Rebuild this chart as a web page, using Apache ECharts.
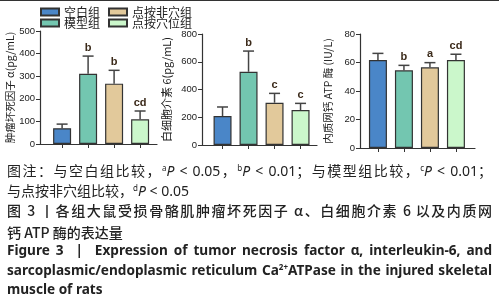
<!DOCTYPE html>
<html>
<head>
<meta charset="utf-8">
<script src="https://cdn.jsdelivr.net/npm/echarts@6/dist/echarts.min.js"></script>
<style>
  html, body { margin: 0; padding: 0; background: #fff; }
  #wrap { position: relative; width: 499px; height: 300px; overflow: hidden; border-top: 1px solid #333; box-sizing: border-box; }
  #chart { position: absolute; left: 0; top: 0; width: 499px; height: 160px; }
  .cap { position: absolute; left: 7px; width: 485px; white-space: nowrap; color: #222;
         font-family: "Noto Sans CJK SC", "Noto Sans", sans-serif; font-size: 14px; line-height: 20px; }
  .full { text-align: justify; text-align-last: justify; }
  .lat { font-family: "Noto Sans", "Open Sans", sans-serif; }
  .en { font-family: "Noto Sans", "Open Sans", sans-serif; font-weight: bold; font-size: 13.6px; }
  sup { font-size: 8px; line-height: 0; vertical-align: 5px; }
</style>
</head>
<body>
<div id="wrap">
  <div id="chart"></div>
  <div class="cap full" style="top:159px">图注：与空白组比较，<span class="lat"><sup>a</sup><i>P</i> &lt; 0.05</span>，<span class="lat"><sup>b</sup><i>P</i> &lt; 0.01</span>；与模型组比较，<span class="lat"><sup>c</sup><i>P</i> &lt; 0.01</span>；</div>
  <div class="cap" style="top:179px">与点按非穴组比较，<span class="lat"><sup>d</sup><i>P</i> &lt; 0.05</span></div>
  <div class="cap full" style="top:199px;font-weight:500">图 3 丨各组大鼠受损骨骼肌肿瘤坏死因子 α、白细胞介素 6 以及内质网</div>
  <div class="cap" style="top:221px;font-weight:500">钙 ATP 酶的表达量</div>
  <div class="cap full en" style="top:239px">Figure 3 &nbsp;|&nbsp; Expression of tumor necrosis factor α, interleukin-6, and</div>
  <div class="cap full en" style="top:259px">sarcoplasmic/endoplasmic reticulum Ca<sup>2+</sup>ATPase in the injured skeletal</div>
  <div class="cap en" style="top:278px">muscle of rats</div>
</div>
<script>
// groups (legend order follows the picture: left column then right column)
const groups = ['空白组', '模型组', '点按非穴组', '点按穴位组'];

// TNF-α (pg/mL)
const tnfMean = [70, 311, 267, 109];
const tnfSd = [18, 78, 59, 37];
const tnfSig = ['', 'b', 'b', 'cd'];

// IL-6 (pg/mL)
const il6Mean = [209, 528, 305, 252];
const il6Sd = [65, 149, 67, 48];
const il6Sig = ['', 'b', 'c', 'c'];

// SERCA (IU/L)
const atpMean = [61.8, 54.5, 56.6, 61.8];
const atpSd = [4.6, 3.5, 3.3, 4.0];
const atpSig = ['', 'b', 'a', 'cd'];

// y axis ranges
const yMax = [500, 800, 80];
const yStep = [100, 200, 20];
const yNames = ['肿瘤坏死因子 α(pg/mL)', '白细胞介素 6(pg/mL)', '内质网钙 ATP 酶 (IU/L)'];

const colors = ['#4a86c8', '#73c6b0', '#e2c99b', '#cbf7cb'];
const panels = [
  { mean: tnfMean, sd: tnfSd, sig: tnfSig },
  { mean: il6Mean, sd: il6Sd, sig: il6Sig },
  { mean: atpMean, sd: atpSd, sig: atpSig },
];

// layout
const grids = [
  { left: 40, top: 30, width: 117, height: 113 },
  { left: 202, top: 33, width: 115, height: 111 },
  { left: 360, top: 33, width: 115, height: 114 },
];
const unit = 26;                 // px between bar centres
const firstOffset = [0.85, 0.79, 0.69];
const nameGaps = [22, 30, 27];
const nameSizes = [10.5, 11, 10.5];

const chart = echarts.init(document.getElementById('chart'));

const xAxes = grids.map((g, k) => ({
  type: 'value',
  gridIndex: k,
  min: 0,
  max: g.width / unit,
  axisLine: { show: true, lineStyle: { color: '#333', width: 1.2 } },
  axisTick: {
    show: true,
    length: 4,
    customValues: groups.map((_, i) => i + firstOffset[k]),
    lineStyle: { color: '#333' },
  },
  axisLabel: { show: false },
  splitLine: { show: false },
}));

const yAxes = grids.map((g, k) => ({
  type: 'value',
  gridIndex: k,
  min: 0,
  max: yMax[k],
  interval: yStep[k],
  name: yNames[k],
  nameLocation: 'middle',
  nameRotate: 90,
  nameGap: nameGaps[k],
  nameTextStyle: { color: '#222', fontSize: nameSizes[k], fontFamily: 'Noto Sans CJK SC' },
  axisLine: { show: true, lineStyle: { color: '#333', width: 1.2 } },
  axisTick: { show: true, length: 4, lineStyle: { color: '#333' } },
  axisLabel: { color: '#222', fontSize: 9.5, margin: 5, fontFamily: 'Liberation Sans, Arial' },
  splitLine: { show: false },
}));

const series = [];
panels.forEach((p, k) => {
  groups.forEach((name, i) => {
    series.push({
      name: name,
      type: 'bar',
      xAxisIndex: k,
      yAxisIndex: k,
      barWidth: 18,
      barGap: '-100%',
      itemStyle: { color: colors[i], borderColor: '#333', borderWidth: 1.2 },
      data: [[i + firstOffset[k], p.mean[i]]],
      animation: false,
    });
  });
  series.push({
    type: 'custom',
    xAxisIndex: k,
    yAxisIndex: k,
    animation: false,
    silent: true,
    data: p.mean.map((m, i) => [i + firstOffset[k], m, p.sd[i], i]),
    renderItem: function (params, api) {
      const x = api.value(0);
      const m = api.value(1);
      const s = api.value(2);
      const idx = api.value(3);
      const bot = api.coord([x, m]);
      const top = api.coord([x, m + s]);
      const cap = 5.5;
      const children = [
        { type: 'line', shape: { x1: bot[0], y1: bot[1], x2: top[0], y2: top[1] },
          style: { stroke: '#444', lineWidth: 1.5 } },
        { type: 'line', shape: { x1: top[0] - cap, y1: top[1], x2: top[0] + cap, y2: top[1] },
          style: { stroke: '#444', lineWidth: 1.5 } },
      ];
      const label = p.sig[idx];
      if (label) {
        children.push({
          type: 'text',
          style: {
            text: label, x: top[0], y: top[1] - 3,
            align: 'center', verticalAlign: 'bottom',
            fill: '#3b2a1a', fontSize: 11, fontWeight: 'bold',
            fontFamily: 'Liberation Sans, Arial',
          },
        });
      }
      return { type: 'group', children: children };
    },
  });
});

// legend: two columns of two rows
const legendPos = [
  { left: 40, top: 5 }, { left: 40, top: 16 },
  { left: 108, top: 5 }, { left: 108, top: 16 },
];
const legends = groups.map((name, i) => ({
  data: [name],
  left: legendPos[i].left,
  top: legendPos[i].top,
  padding: 0,
  itemWidth: 18,
  itemHeight: 7,
  itemGap: 0,
  selectedMode: false,
  icon: 'rect',
  textStyle: { color: '#222', fontSize: 12, fontFamily: 'Noto Sans CJK SC' },
}));

chart.setOption({
  animation: false,
  grid: grids.map(g => Object.assign({ containLabel: false }, g)),
  xAxis: xAxes,
  yAxis: yAxes,
  legend: legends,
  series: series,
});
</script>
</body>
</html>
